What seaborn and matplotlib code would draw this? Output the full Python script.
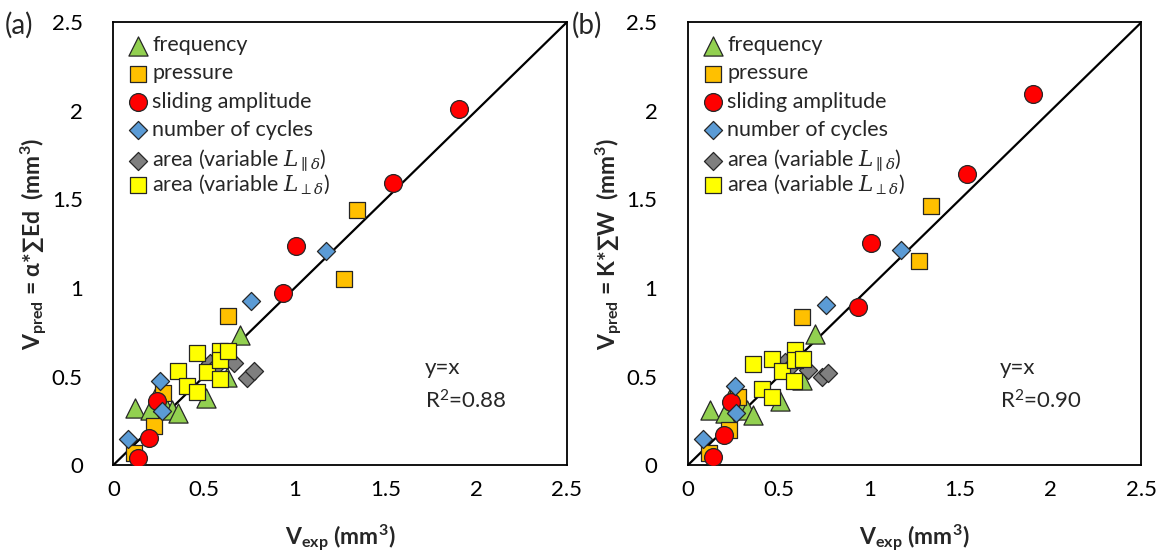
import matplotlib
matplotlib.use("Agg")
import matplotlib.pyplot as plt
import seaborn as sns

# V_exp values (shared by both panels) and predicted values per panel
freq_exp = [0.12, 0.203, 0.249, 0.276, 0.323, 0.359, 0.51, 0.627, 0.70]
freq_a = [0.32, 0.311, 0.414, 0.358, 0.311, 0.292, 0.377, 0.499, 0.734]
freq_b = [0.31, 0.292, 0.414, 0.358, 0.31, 0.282, 0.363, 0.48, 0.74]

pres_exp = [0.116, 0.227, 0.276, 0.63, 1.274, 1.341]
pres_a = [0.066, 0.22, 0.405, 0.843, 1.051, 1.441]
pres_b = [0.066, 0.198, 0.382, 0.834, 1.153, 1.465]

slid_exp = [0.138, 0.199, 0.24, 0.938, 1.009, 1.54, 1.905]
slid_a = [0.038, 0.154, 0.363, 0.972, 1.237, 1.593, 2.01]
slid_b = [0.043, 0.169, 0.354, 0.894, 1.252, 1.642, 2.096]

cyc_exp = [0.083, 0.258, 0.267, 0.759, 1.173]
cyc_a = [0.145, 0.475, 0.305, 0.927, 1.209]
cyc_b = [0.147, 0.446, 0.296, 0.904, 1.215]

par_exp = [0.534, 0.571, 0.663, 0.737, 0.773]
par_a = [0.576, 0.565, 0.575, 0.493, 0.531]
par_b = [0.584, 0.56, 0.537, 0.499, 0.521]

perp_exp = [0.359, 0.406, 0.461, 0.461, 0.516, 0.586, 0.59, 0.59, 0.635]
perp_a = [0.531, 0.446, 0.631, 0.411, 0.524, 0.486, 0.644, 0.593, 0.644]
perp_b = [0.569, 0.429, 0.599, 0.386, 0.533, 0.475, 0.65, 0.593, 0.599]

labels = ["frequency", "pressure", "sliding amplitude", "number of cycles",
          r"area (variable $L_{\parallel\delta}$)", r"area (variable $L_{\perp\delta}$)"]
ticks = [0, 0.5, 1, 1.5, 2, 2.5]
tick_labels = ["0", "0.5", "1", "1.5", "2", "2.5"]
r2_text = ["R$^2$=0.88", "R$^2$=0.90"]
ylabels = ["V$_{\\mathbf{pred}}$ = α*∑Ed  (mm$^{\\mathbf{3}}$)",
           "V$_{\\mathbf{pred}}$ = K*∑W  (mm$^{\\mathbf{3}}$)"]
panel_tags = ["(a)", "(b)"]

sns.set_style("white")
plt.rcParams['font.family'] = ['Lato', 'DejaVu Sans']
plt.rcParams['mathtext.fontset'] = 'custom'
plt.rcParams['mathtext.rm'] = 'Lato'
plt.rcParams['mathtext.bf'] = 'Lato:bold'
plt.rcParams['mathtext.it'] = 'Lato:italic'

styles = [("^", "#92D050", 190), ("s", "#FFC000", 135), ("o", "#FF0000", 165),
          ("D", "#5B9BD5", 85), ("D", "#7F7F7F", 85), ("s", "#FFFF00", 135)]

fig = plt.figure(figsize=(11.67, 5.59), dpi=100)
ax_a = fig.add_axes([0.0971, 0.168, 0.3885, 0.792])
ax_b = fig.add_axes([0.5895, 0.168, 0.3885, 0.792])

panels = [
    (ax_a, [freq_a, pres_a, slid_a, cyc_a, par_a, perp_a]),
    (ax_b, [freq_b, pres_b, slid_b, cyc_b, par_b, perp_b]),
]
xs = [freq_exp, pres_exp, slid_exp, cyc_exp, par_exp, perp_exp]

leg_kw = dict(loc="upper left", frameon=False, handletextpad=0.25, labelspacing=0.38,
              borderaxespad=0.2, handlelength=0.8,
              prop={"size": 15.5, "math_fontfamily": "dejavuserif"})

for i, (ax, ys) in enumerate(panels):
    ax.plot([0, 2.5], [0, 2.5], color="black", lw=1.6, zorder=1)
    for (m, c, s), x, y, lab in zip(styles, xs, ys, labels):
        sns.scatterplot(x=x, y=y, marker=m, color=c, s=s, edgecolor="#262626",
                        linewidth=0.9, ax=ax, label=lab, zorder=3)
    ax.set_xlim(0, 2.5)
    ax.set_ylim(0, 2.5)
    ax.set_xticks(ticks)
    ax.set_xticklabels(tick_labels)
    ax.set_yticks(ticks)
    ax.set_yticklabels(tick_labels)
    ax.tick_params(direction="in", length=6, width=1, labelsize=16, colors="black")
    ax.tick_params(axis="x", pad=11)
    ax.tick_params(axis="y", pad=22)
    for sp in ax.spines.values():
        sp.set_color("black")
        sp.set_linewidth(1.3)
    ax.set_xlabel("V$_{\\mathbf{exp}}$ (mm$^{\\mathbf{3}}$)", fontsize=16.5, fontweight="bold", labelpad=16)
    ax.set_ylabel(ylabels[i], fontsize=16.5, fontweight="bold", labelpad=1)
    ax.text(1.72, 0.55, "y=x", fontsize=16, va="center")
    ax.text(1.72, 0.36, r2_text[i], fontsize=16, va="center")

    # split legend so the last (math) row keeps the even spacing
    handles, labs = ax.get_legend_handles_labels()
    leg1 = ax.legend(handles[:5], labs[:5], bbox_to_anchor=(0.008, 1.0), **leg_kw)
    ax.add_artist(leg1)
    ax.legend(handles[5:], labs[5:], bbox_to_anchor=(0.008, 0.69), **leg_kw)

fig.text(0.004, 0.94, panel_tags[0], fontsize=20)
fig.text(0.49, 0.94, panel_tags[1], fontsize=20)

fig.savefig("out.png", dpi=100)
